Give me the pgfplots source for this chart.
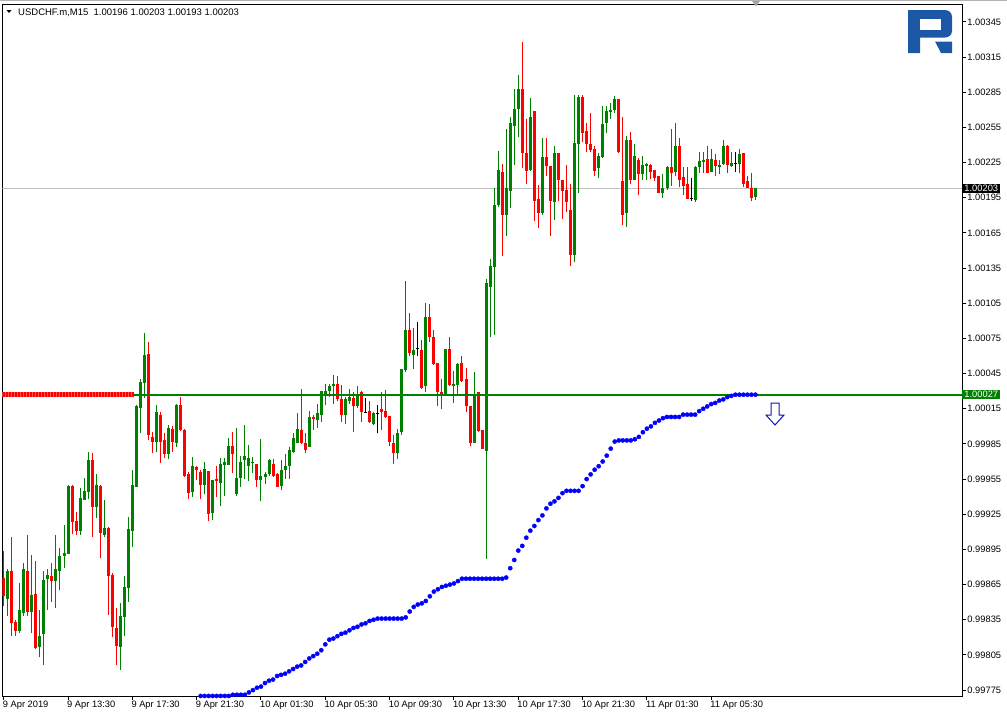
\documentclass[border=0pt]{standalone}
\usepackage{pgfplots}
\pgfplotsset{compat=1.18}
\usepackage{pgfplotstable}
\usepackage{fontspec}
\setmainfont{Liberation Sans}
\definecolor{cgreen}{RGB}{0,128,0}
\definecolor{cred}{RGB}{255,0,0}
\definecolor{cblue}{RGB}{0,0,255}
\definecolor{logoblue}{RGB}{28,88,165}
\definecolor{gline}{RGB}{192,192,192}
\definecolor{cpink}{RGB}{255,140,140}

% prices in units of 0.00001 above 1.00000 (e.g. 203 = 1.00203), bar index i (M15 bars)
% bullish candles
\pgfplotstableread{
i o h l c
1 -147 -122 -162 -123
4 -175 -134 -176 -157
5 -159 -117 -162 -122
7 -158 -110 -176 -144
9 -188 -157 -197 -179
10 -177 -123 -204 -131
11 -130 -122 -157 -127
13 -132 -93 -155 -122
14 -123 -104 -140 -111
15 -111 -84 -121 -108
16 -109 -50 -109 -51
19 -89 -53 -93 -61
20 -63 -44 -63 -55
21 -56 -22 -62 -29
23 -69 -41 -78 -50
25 -93 -63 -94 -87
29 -188 -151 -208 -162
30 -163 -128 -179 -137
31 -138 -77 -150 -88
32 -89 -37 -103 -50
33 -52 18 -52 17
34 16 40 -6 38
35 37 80 24 61
38 -13 18 -22 12
41 -24 1 -28 -1
43 -14 19 -18 18
47 -56 -26 -60 -34
50 -50 -30 -58 -36
52 -74 -46 -80 -46
54 -48 -27 -68 -32
55 -33 -27 -59 -30
56 -33 -10 -33 -17
58 -58 -1 -59 -44
59 -44 -25 -52 -30
60 -29 1 -45 -25
61 -34 -16 -47 -27
62 -31 -26 -40 -30
64 -46 -11 -64 -42
65 -43 -39 -49 -41
66 -41 -28 -42 -29
69 -51 -29 -54 -37
70 -37 -24 -45 -34
71 -34 -18 -45 -20
72 -22 -6 -23 -10
73 -14 11 -14 -2
76 -18 13 -18 8
78 5 19 -1 11
79 10 30 4 30
80 28 36 18 30
81 30 36 25 34
82 34 44 19 36
85 10 25 2 23
86 22 32 19 25
88 17 34 16 28
92 2 12 1 11
98 -23 -2 -28 -6
99 -5 49 -7 49
100 48 124 46 82
102 61 84 49 65
105 34 105 29 93
110 27 66 26 66
112 34 47 20 36
113 35 54 26 53
117 -14 46 -14 28
120 -21 126 -113 122
121 119 143 76 137
122 136 203 78 189
123 189 235 187 219
125 180 254 162 203
126 201 264 186 259
127 256 288 223 271
128 271 300 247 288
131 219 280 218 264
134 182 246 180 230
137 191 239 176 233
142 146 283 140 242
143 241 283 199 281
148 220 233 212 231
149 230 273 229 258
150 259 273 250 269
151 268 276 262 270
152 270 282 267 279
155 182 248 170 244
157 210 241 210 231
159 215 231 210 223
160 222 225 210 224
164 199 215 195 203
165 203 222 202 221
167 217 259 214 239
172 193 222 191 221
173 221 234 216 226
174 226 234 216 227
176 217 237 217 228
178 221 227 215 223
179 224 244 223 239
181 222 234 221 225
183 224 237 216 232
187 196 203 193 203
}\upcandles

% bearish candles
\pgfplotstableread{
i o h l c
0 -129 -106 -153 -145
2 -123 -94 -179 -168
3 -167 -165 -179 -175
6 -123 -93 -162 -158
8 -143 -115 -190 -189
12 -128 -117 -150 -132
17 -51 -50 -92 -82
18 -81 -73 -93 -89
22 -29 -23 -94 -69
24 -51 -50 -112 -91
26 -87 -86 -161 -128
27 -127 -125 -180 -171
28 -172 -155 -204 -187
36 62 72 -12 -7
37 -9 -5 -23 -13
39 10 12 -31 -13
40 -12 -6 -27 -24
42 -2 0 -22 -13
44 18 25 -4 -3
45 -3 -2 -43 -42
46 -41 -39 -62 -57
48 -35 -34 -46 -37
49 -39 -37 -62 -50
51 -38 -38 -81 -75
53 -45 -34 -60 -47
57 -17 -5 -40 -24
63 -32 -32 -52 -46
67 -32 -28 -43 -42
68 -41 -40 -52 -52
74 -3 32 -15 -14
75 -14 -6 -23 -20
77 8 10 -3 6
83 36 43 22 23
84 23 35 4 10
87 24 29 -5 17
89 29 30 4 12
91 13 22 3 4
94 15 29 -3 12
95 13 31 7 8
96 9 9 -17 -13
97 -14 -7 -32 -23
101 82 97 60 63
104 65 74 32 33
106 93 104 72 76
107 76 82 52 53
108 54 54 17 29
109 29 40 15 27
111 66 76 34 35
114 54 60 38 39
115 40 50 12 17
116 17 17 -17 -14
118 29 29 -5 -4
119 -3 -3 -19 -19
124 217 224 145 180
129 288 328 220 233
130 233 262 207 218
132 269 269 175 192
133 194 206 169 182
135 230 246 214 222
136 222 222 162 192
138 233 233 192 210
139 210 210 177 201
140 202 223 183 191
141 185 207 137 146
144 281 283 243 250
145 252 259 234 241
146 241 267 234 236
147 237 239 214 218
153 279 279 233 234
154 209 264 172 180
156 244 251 207 210
158 227 229 197 215
161 223 224 211 217
162 219 219 209 212
163 214 214 199 199
166 221 254 205 216
168 239 246 204 210
169 213 221 197 205
170 207 221 194 194
175 228 239 216 216
177 227 232 214 222
180 239 240 216 223
184 233 233 204 207
185 209 214 203 203
186 203 216 192 195
}\dncandles

% doji candles (open = close)
\pgfplotstableread{
i o h l c
90 12 24 11 12
93 11 18 -6 11
103 66 89 60 66
171 194 212 192 194
182 224 234 217 224
}\djcandles

% indicator dots
\pgfplotstableread{
i p
49 -230
50 -230
51 -230
52 -230
53 -230
54 -230
55 -230
56 -230
57 -229
58 -229
59 -229
60 -229
61 -227
62 -225
63 -223
64 -222
65 -219
66 -217
67 -216
68 -213
69 -212
70 -211
71 -209
72 -207
73 -205
74 -204
75 -201
76 -198
77 -196
78 -194
79 -191
80 -186
81 -182
82 -181
83 -179
84 -177
85 -176
86 -174
87 -172
88 -171
89 -169
90 -168
91 -166
92 -165
93 -164
94 -164
95 -164
96 -164
97 -164
98 -164
99 -164
100 -163
101 -158
102 -154
103 -152
104 -151
105 -149
106 -145
107 -141
108 -139
109 -137
110 -136
111 -135
112 -134
113 -132
114 -130
115 -130
116 -130
117 -130
118 -130
119 -130
120 -130
121 -130
122 -130
123 -130
124 -130
125 -129
126 -121
127 -114
128 -106
129 -102
130 -95
131 -89
132 -85
133 -80
134 -76
135 -70
136 -66
137 -64
138 -61
139 -57
140 -55
141 -55
142 -55
143 -55
144 -51
145 -45
146 -41
147 -37
148 -34
149 -30
150 -25
151 -19
152 -13
153 -12
154 -12
155 -12
156 -12
157 -11
158 -9
159 -5
160 -2
161 0
162 3
163 5
164 7
165 8
166 8
167 8
168 8
169 10
170 10
171 10
172 10
173 13
174 15
175 17
176 19
177 20
178 22
179 23
180 25
181 26
182 27
183 27
184 27
185 27
186 27
187 27
}\bluedots

\pgfplotsset{
  wick/.style={draw=none, mark=none, forget plot,
    /pgfplots/error bars/y dir=plus, /pgfplots/error bars/y explicit,
    /pgfplots/error bars/error mark=none,
    /pgfplots/error bars/error bar style={draw=#1, line width=1pt}},
  body/.style={draw=none, mark=none, forget plot,
    /pgfplots/error bars/y dir=both, /pgfplots/error bars/y explicit,
    /pgfplots/error bars/error mark=none,
    /pgfplots/error bars/error bar style={draw=#1, line width=3pt}},
}

\newcommand{\lblfont}{\fontsize{9.3}{11}\selectfont}

\begin{document}
\begin{tikzpicture}
\useasboundingbox (0,0) rectangle (1007pt,-716pt);
\fill[white] (0,0) rectangle (1007pt,-716pt);
\begin{axis}[
  at={(2.3pt,-696pt)}, anchor=south west,
  width=955.2pt, height=691.5pt, scale only axis,
  xmin=-0.35, xmax=238.45, ymin=-230.06, ymax=359.9,
  clip mode=individual,
  axis line style={black, line width=1pt},
  tick style={black, line width=1pt},
  tick align=outside,
  major tick length=4pt,
  xtick pos=left, ytick pos=right,
  yticklabel pos=right,
  xtick={0,16,...,176},
  xticklabels={9 Apr 2019, 9 Apr 13:30, 9 Apr 17:30, 9 Apr 21:30, 10 Apr 01:30, 10 Apr 05:30, 10 Apr 09:30, 10 Apr 13:30, 10 Apr 17:30, 10 Apr 21:30, 11 Apr 01:30, 11 Apr 05:30},
  x tick label style={anchor=north west, xshift=-2pt, inner sep=1pt},
  ytick={-225,-195,...,345},
  yticklabels={0.99775,0.99805,0.99835,0.99865,0.99895,0.99925,0.99955,0.99985,1.00015,1.00045,1.00075,1.00105,1.00135,1.00165,1.00195,1.00225,1.00255,1.00285,1.00315,1.00345},
  y tick label style={anchor=west, inner sep=1pt},
  tick label style={font=\lblfont, text=black},
]
% bid line
\addplot[gline, line width=1pt, forget plot] coordinates {(-1,203) (240,203)};
% candles
\addplot[wick=cgreen] table[x=i, y=l, y error expr=\thisrow{h}-\thisrow{l}] {\upcandles};
\addplot[body=cgreen] table[x=i, y expr=(\thisrow{o}+\thisrow{c})/2, y error expr=(\thisrow{c}-\thisrow{o})/2] {\upcandles};
\addplot[wick=cred] table[x=i, y=l, y error expr=\thisrow{h}-\thisrow{l}] {\dncandles};
\addplot[body=cred] table[x=i, y expr=(\thisrow{o}+\thisrow{c})/2, y error expr=(\thisrow{o}-\thisrow{c})/2] {\dncandles};
\addplot[wick=black] table[x=i, y=l, y error expr=\thisrow{h}-\thisrow{l}] {\djcandles};
\addplot[only marks, mark=-, mark size=1.6pt, mark options={draw=black, line width=1pt}, forget plot] table[x=i, y=o] {\djcandles};
% horizontal level
\addplot[cgreen, line width=2pt, forget plot] coordinates {(-1,27) (240,27)};
\addplot[cred, line width=5pt, forget plot] coordinates {(-0.35,27) (32.3,27)};
\addplot[cpink, line width=5pt, dash pattern=on 1pt off 2pt, opacity=0.6, forget plot] coordinates {(-0.35,27) (32.3,27)};
% indicator dots
\addplot[only marks, mark=*, mark size=2.1pt, mark options={draw=cblue, fill=cblue}, forget plot] table[x=i, y=p] {\bluedots};
% price tags
\node[fill=black, text=white, font=\lblfont, anchor=west, inner xsep=2pt, inner ysep=1pt] at (axis cs:238.45,203) {1.00203};
\node[fill=cgreen, text=white, font=\lblfont, anchor=west, inner xsep=2pt, inner ysep=1pt] at (axis cs:238.45,27) {1.00027};
\end{axis}
\begin{scope}[x=1pt, y=-1pt]
% window edge
\draw[gray!60, line width=1pt] (0,0.5) -- (1007,0.5);
% title
\fill[black] (6.5,10) -- (11.5,10) -- (9,13) -- cycle;
\node[anchor=west, inner sep=0pt, font=\fontsize{9.5}{11}\selectfont] at (18,12.5) {USDCHF.m,M15\ \ 1.00196 1.00203 1.00193 1.00203};
% chart shift marker
\fill[gray!70] (752,1) -- (760,1) -- (756,6.5) -- cycle;
% logo
\fill[logoblue] (908,10) -- (945,10) to[out=0,in=90] (952,17) -- (952,31) to[out=-90,in=0] (945,37.5) -- (920,37.5) -- (920,53) -- (908,53) -- cycle;
\fill[white] (920,18.5) rectangle (941,30);
\fill[logoblue] (935,41.5) -- (952,41.5) -- (952,53) -- (941,53) -- cycle;
% arrow
\draw[draw={rgb,255:red,20;green,20;blue,170}, fill=white, line width=1pt, line join=miter] (771,403) -- (779,403) -- (779,415) -- (784,415) -- (775,425) -- (766,415) -- (771,415) -- cycle;
\end{scope}
\end{tikzpicture}
\end{document}
